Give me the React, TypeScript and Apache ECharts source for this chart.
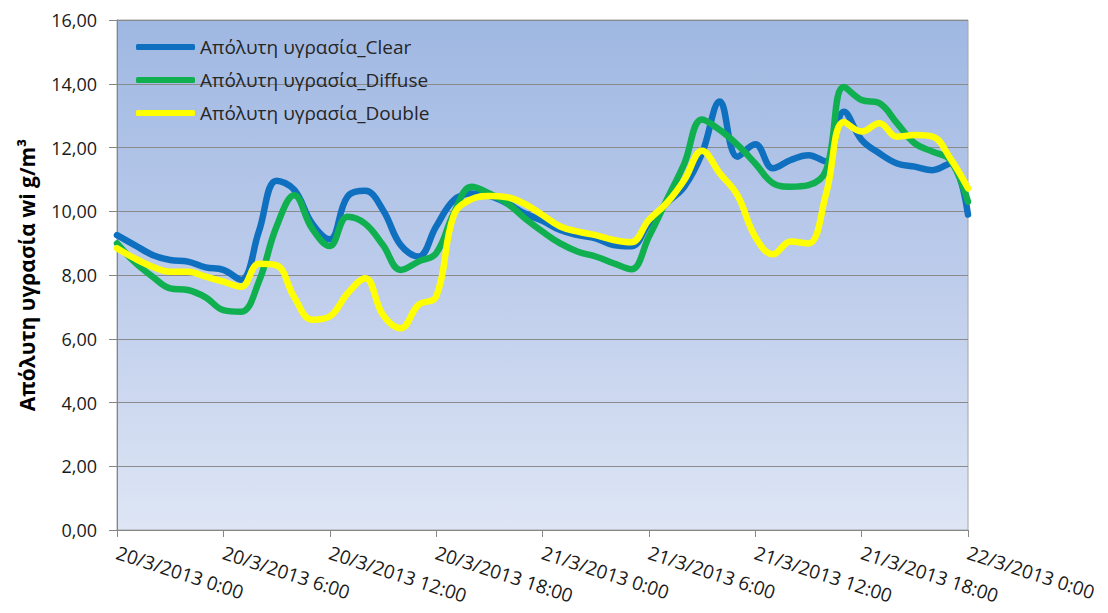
import React, { useEffect, useRef } from "react";
import * as echarts from "echarts";

const seriesNames = ["Απόλυτη υγρασία_Clear", "Απόλυτη υγρασία_Diffuse", "Απόλυτη υγρασία_Double"];

// hourly timestamps 20/3/2013 0:00 .. 22/3/2013 0:00
const days = ["20/3/2013", "21/3/2013", "22/3/2013"];
const categories: string[] = [];
for (let h = 0; h <= 48; h++) {
  categories.push(`${days[Math.floor(h / 24)]} ${h % 24}:00`);
}

const clearValues = [
  9.25, 8.94, 8.63, 8.47, 8.42, 8.24, 8.16, 7.85, 9.36, 10.96,
  10.67, 9.62, 9.12, 10.46, 10.64, 10.04, 8.94, 8.58, 9.52, 10.35,
  10.56, 10.48, 10.25, 9.93, 9.7, 9.41, 9.25, 9.15, 8.94, 8.9,
  9.62, 10.25, 10.77, 11.82, 13.44, 11.71, 12.1, 11.35, 11.61, 11.76,
  11.56, 13.12, 12.24, 11.82, 11.5, 11.4, 11.29, 11.5, 9.9,
];

const diffuseValues = [
  8.99, 8.4, 7.95, 7.58, 7.53, 7.3, 6.9, 6.85, 7.79, 9.52,
  10.5, 9.46, 8.91, 9.83, 9.61, 8.94, 8.16, 8.42, 8.68, 9.94,
  10.77, 10.56, 10.25, 9.78, 9.36, 8.99, 8.73, 8.58, 8.37, 8.18,
  9.2, 10.35, 11.5, 12.88, 12.55, 12.08, 11.5, 10.88, 10.77, 10.82,
  11.29, 13.9, 13.49, 13.39, 12.76, 12.13, 11.87, 11.61, 10.3,
];

const doubleValues = [
  8.84, 8.52, 8.26, 8.1, 8.1, 7.95, 7.79, 7.63, 8.35, 8.3,
  7.3, 6.6, 6.7, 7.42, 7.9, 6.75, 6.33, 7.06, 7.32, 9.88,
  10.38, 10.48, 10.44, 10.23, 9.88, 9.52, 9.36, 9.25, 9.1, 9.03,
  9.73, 10.25, 10.98, 11.9, 11.19, 10.5, 9.2, 8.65, 9.05, 8.99,
  10.56, 12.8, 12.5, 12.76, 12.34, 12.39, 12.34, 11.66, 10.72,
];

const colors = ["#1070c0", "#10b050", "#ffff00"];
const yTitle = "Απόλυτη υγρασία wi g/m³";
const FONT = "Open Sans";

export default function App() {
  const ref = useRef<HTMLDivElement>(null);
  useEffect(() => {
    if (!ref.current) return;
    const chart = echarts.init(ref.current, null, { renderer: "svg" });
    const values = [clearValues, diffuseValues, doubleValues];
    chart.setOption({
      animation: false,
      backgroundColor: "#ffffff",
      grid: {
        left: 117,
        right: 140,
        top: 20,
        bottom: 83,
        show: true,
        borderColor: "#a6a6a6",
        borderWidth: 1,
        backgroundColor: new echarts.graphic.LinearGradient(0, 0, 0, 1, [
          { offset: 0, color: "#9fb8e2" },
          { offset: 0.5, color: "#bdcceb" },
          { offset: 1, color: "#dee6f5" },
        ]),
      },
      legend: {
        orient: "vertical",
        left: 131,
        top: 31,
        itemWidth: 59,
        itemHeight: 6,
        itemGap: 11,
        icon: "roundRect",
        textStyle: { fontFamily: FONT, fontSize: 19, color: "#262626", lineHeight: 22 },
        data: seriesNames,
      },
      xAxis: {
        type: "category",
        boundaryGap: false,
        data: categories,
        axisLine: { lineStyle: { color: "#868686", width: 1 } },
        axisTick: { show: true, interval: 5, length: 7, lineStyle: { color: "#868686" } },
        axisLabel: {
          interval: 5,
          rotate: -18,
          margin: 22,
          fontFamily: FONT,
          fontSize: 19,
          color: "#1a1a1a",
        },
        splitLine: { show: false },
      },
      yAxis: {
        type: "value",
        min: 0,
        max: 16,
        interval: 2,
        name: yTitle,
        nameLocation: "middle",
        nameGap: 80,
        nameTextStyle: { fontFamily: FONT, fontSize: 21, fontWeight: "bold", color: "#000" },
        axisLine: { show: true, lineStyle: { color: "#868686", width: 1 } },
        axisTick: { show: true, length: 8, lineStyle: { color: "#868686" } },
        axisLabel: {
          margin: 20,
          fontFamily: FONT,
          fontSize: 18,
          color: "#1a1a1a",
          formatter: (v: number) => v.toFixed(2).replace(".", ","),
        },
        splitLine: { show: true, lineStyle: { color: "#8a8a8a", width: 1 } },
      },
      series: seriesNames.map((name, i) => ({
        name,
        type: "line",
        data: values[i],
        smooth: 0.4,
        showSymbol: false,
        symbol: "none",
        color: colors[i],
        lineStyle: { color: colors[i], width: 6.5, cap: "round", join: "round" },
      })),
    });
    return () => chart.dispose();
  }, []);
  return (
    <div
      ref={ref}
      style={{ position: "absolute", left: 0, top: 0, width: 1108, height: 613 }}
    />
  );
}
